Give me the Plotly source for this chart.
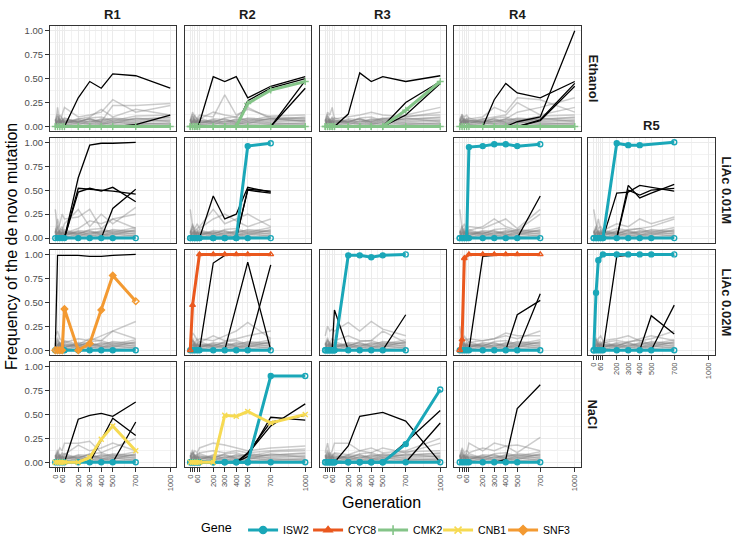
import plotly.graph_objects as go

# sampled generations and axis labels
G = [0, 20, 40, 60, 80, 200, 300, 400, 500, 700, 1000]
X_TICK_TEXT = ["0", "", "", "60", "", "200", "300", "400", "500", "700", "1000"]
X_MINOR = [140, 250, 350, 450, 600, 850]
Y_TICKS = [0, 0.25, 0.5, 0.75, 1.0]
Y_TICK_TEXT = ["0.00", "0.25", "0.50", "0.75", "1.00"]
REPLICATES = ["R1", "R2", "R3", "R4", "R5"]
CONDITIONS = ["Ethanol", "LiAc 0.01M", "LiAc 0.02M", "NaCl"]
GENES = ["ISW2", "CYC8", "CMK2", "CNB1", "SNF3"]

# low-frequency background mutations (the grey band)
BAND = [
    [0.05, 0.09, 0.03, 0.06, 0.04, 0.05, 0.03, 0.06, 0.04, 0.05, 0.06],
    [0.02, 0.04, 0.07, 0.03, 0.05, 0.02, 0.06, 0.03, 0.07, 0.04, 0.03],
    [0.08, 0.03, 0.05, 0.09, 0.02, 0.07, 0.04, 0.08, 0.05, 0.08, 0.09],
    [0.01, 0.06, 0.02, 0.04, 0.07, 0.03, 0.02, 0.04, 0.02, 0.03, 0.02],
    [0.04, 0.11, 0.06, 0.02, 0.03, 0.08, 0.07, 0.05, 0.09, 0.07, 0.10],
    [0.00, 0.02, 0.01, 0.01, 0.02, 0.01, 0.00, 0.02, 0.01, 0.01, 0.01],
    [0.06, 0.13, 0.04, 0.07, 0.09, 0.04, 0.09, 0.10, 0.06, 0.11, 0.12],
    [0.03, 0.05, 0.08, 0.05, 0.06, 0.06, 0.05, 0.07, 0.08, 0.06, 0.07],
    [0.02, 0.07, 0.03, 0.06, 0.01, 0.04, 0.03, 0.02, 0.05, 0.02, 0.04],
    [0.07, 0.01, 0.06, 0.03, 0.05, 0.05, 0.08, 0.04, 0.03, 0.09, 0.05],
]

# ---- Ethanol ----
ETH_R1_FAINT = [[0.0, 0.2, 0.05, 0.12, 0.2, 0.1, 0.12, 0.15, 0.28, 0.15, 0.22],
                [0.02, 0.05, 0.12, 0.08, 0.05, 0.08, 0.1, 0.18, 0.1, 0.18, 0.12],
                [0.0, 0.02, 0.04, 0.05, 0.08, 0.05, 0.08, 0.05, 0.22, 0.22, 0.24]]
ETH_R1_BLACK = [[0, 0, 0, 0, 0, 0.30, 0.47, 0.40, 0.55, 0.53, 0.40],
                [0, 0, 0, 0, 0, 0, 0, 0, 0, 0.02, 0.12]]
ETH_R1_CMK2 = [[0, 0, 0, 0, 0, 0, 0, 0, 0, 0, 0]]

ETH_R2_FAINT = [[0.05, 0.15, 0.1, 0.08, 0.12, 0.1, 0.33, 0.12, 0.18, 0.1, 0.08],
                [0.02, 0.05, 0.12, 0.06, 0.08, 0.15, 0.12, 0.1, 0.2, 0.08, 0.06]]
ETH_R2_BLACK = [[0, 0, 0, 0, 0.04, 0.52, 0.47, 0.52, 0.30, 0.42, 0.52],
                [0, 0, 0, 0, 0, 0, 0, 0, 0.27, 0.40, 0.50],
                [0, 0, 0, 0, 0, 0, 0, 0, 0, 0, 0.48],
                [0, 0, 0, 0, 0, 0, 0, 0, 0, 0, 0.40]]
ETH_R2_CMK2 = [[0, 0, 0, 0, 0, 0, 0, 0, 0, 0, 0],
               [0, 0, 0, 0, 0, 0, 0, 0, 0.24, 0.38, 0.47]]

ETH_R3_FAINT = [[0.05, 0.15, 0.12, 0.2, 0.08, 0.1, 0.12, 0.15, 0.12, 0.1, 0.15],
                [0.02, 0.08, 0.05, 0.1, 0.06, 0.05, 0.08, 0.05, 0.08, 0.12, 0.2]]
ETH_R3_BLACK = [[0, 0, 0, 0, 0, 0.13, 0.56, 0.47, 0.52, 0.47, 0.53],
                [0, 0, 0, 0, 0, 0, 0, 0, 0, 0.25, 0.47],
                [0, 0, 0, 0, 0, 0, 0, 0, 0, 0.12, 0.45]]
ETH_R3_CMK2 = [[0, 0, 0, 0, 0, 0, 0, 0, 0, 0, 0],
               [0, 0, 0, 0, 0, 0, 0, 0, 0, 0.17, 0.47]]

ETH_R4_FAINT = [[0.08, 0.12, 0.1, 0.12, 0.08, 0.1, 0.2, 0.15, 0.3, 0.28, 0.15],
                [0.02, 0.05, 0.08, 0.05, 0.06, 0.08, 0.1, 0.12, 0.25, 0.12, 0.2],
                [0.0, 0.1, 0.05, 0.08, 0.06, 0.05, 0.06, 0.08, 0.15, 0.2, 0.3]]
ETH_R4_BLACK = [[0, 0, 0, 0, 0, 0, 0.28, 0.45, 0.35, 0.30, 0.47],
                [0, 0, 0, 0, 0, 0, 0, 0, 0.05, 0.10, 1.00],
                [0, 0, 0, 0, 0, 0, 0, 0, 0, 0.07, 0.45],
                [0, 0, 0, 0, 0, 0, 0, 0, 0, 0.06, 0.42]]
ETH_R4_CMK2 = [[0, 0, 0, 0, 0, 0, 0, 0, 0, 0, 0]]

# ---- LiAc 0.01M ----
L1_R1_FAINT = [[0.3, 0.1, 0.15, 0.25, 0.2, 0.22, 0.3, 0.1, 0.2, 0.25],
               [0.05, 0.2, 0.1, 0.08, 0.15, 0.3, 0.12, 0.25, 0.15, 0.32],
               [0.1, 0.05, 0.08, 0.12, 0.05, 0.1, 0.18, 0.15, 0.2, 0.1]]
L1_R1_BLACK = [[0, 0, 0, 0, 0, 0.63, 0.97, 0.99, 0.99, 1.00],
               [0, 0, 0, 0, 0, 0.48, 0.52, 0.49, 0.53, 0.38],
               [0, 0, 0, 0, 0, 0.52, 0.51, 0.50, 0.49, 0.46],
               [0, 0, 0, 0, 0, 0, 0, 0, 0.31, 0.51]]
L1_R1_ISW2 = [[0, 0, 0, 0, 0, 0, 0, 0, 0, 0]]

L1_R2_FAINT = [[0.3, 0.12, 0.1, 0.15, 0.1, 0.2, 0.25, 0.18, 0.12, 0.2],
               [0.05, 0.15, 0.08, 0.1, 0.12, 0.3, 0.15, 0.2, 0.25, 0.12]]
L1_R2_BLACK = [[0, 0, 0, 0, 0, 0.44, 0.20, 0.25, 0.53, 0.48],
               [0, 0, 0, 0, 0, 0, 0, 0, 0.51, 0.49],
               [0, 0, 0, 0, 0, 0, 0, 0, 0.50, 0.47]]
L1_R2_ISW2 = [[0, 0, 0, 0, 0, 0, 0, 0, 0, 0],
              [0, 0, 0, 0, 0, 0, 0, 0, 0.96, 0.99]]

L1_R4_FAINT = [[0.3, 0.1, 0.15, 0.08, 0.12, 0.1, 0.15, 0.2, 0.1, 0.3],
               [0.05, 0.08, 0.1, 0.05, 0.08, 0.12, 0.2, 0.12, 0.08, 0.25]]
L1_R4_BLACK = [[0, 0, 0, 0, 0, 0, 0, 0, 0, 0.44]]
L1_R4_ISW2 = [[0, 0, 0, 0, 0, 0, 0, 0, 0, 0],
              [0, 0, 0, 0, 0.95, 0.96, 0.98, 0.98, 0.96, 0.98]]

L1_R5_FAINT = [[0.3, 0.15, 0.1, 0.12, 0.08, 0.15, 0.12, 0.2, 0.15, 0.22],
               [0.05, 0.1, 0.2, 0.08, 0.05, 0.1, 0.08, 0.1, 0.12, 0.2]]
L1_R5_BLACK = [[0, 0, 0, 0, 0, 0.47, 0.48, 0.55, 0.53, 0.49],
               [0, 0, 0, 0, 0, 0, 0.55, 0.42, 0.47, 0.56],
               [0, 0, 0, 0, 0, 0, 0.50, 0.45, 0.50, 0.52]]
L1_R5_ISW2 = [[0, 0, 0, 0, 0, 0, 0, 0, 0, 0],
              [0, 0, 0, 0, 0, 0.99, 0.97, 0.97, None, 1.00]]

# ---- LiAc 0.02M ----
L2_R1_FAINT = [[0.15, 0.2, 0.12, 0.1, 0.08, 0.12, 0.1, 0.15, 0.2, 0.3],
               [0.02, 0.05, 0.08, 0.05, 0.1, 0.06, 0.12, 0.1, 0.2, 0.12]]
L2_R1_BLACK = [[0, 0.99, 0.99, 0.99, 0.99, 0.99, 0.98, 0.98, 0.99, 1.00]]
L2_R1_ISW2 = [[0, 0, 0, 0, 0, 0, 0, 0, 0, 0]]
L2_R1_SNF3 = [[0, 0, 0, 0, 0.43, 0, 0.07, 0.42, 0.78, 0.51]]

L2_R2_FAINT = [[0.1, 0.18, 0.15, 0.1, 0.12, 0.1, 0.15, 0.2, 0.29, 0.12],
               [0.05, 0.1, 0.08, 0.12, 0.08, 0.15, 0.1, 0.12, 0.15, 0.2]]
L2_R2_BLACK = [[0, 0, 0, 0, 0, 0.91, 0.99, 1.0, 1.0, 1.0],
               [0, 0, 0, 0, 0, 0, 0, 0.46, 0.92, 0],
               [0, 0, 0, 0, 0, 0, 0, 0, 0, 0.89]]
L2_R2_ISW2 = [[0, 0, 0, 0, 0, 0, 0, 0, 0, 0]]
L2_R2_CYC8 = [[0, 0.47, None, None, 1.0, 1.0, 1.0, 1.0, 1.0, 1.0]]

L2_R3_FAINT = [[0.15, 0.25, 0.2, 0.22, 0.2, 0.29, 0.2, 0.3, 0.22, 0.15],
               [0.05, 0.1, 0.08, 0.12, 0.1, 0.15, 0.1, 0.1, 0.2, 0.08]]
L2_R3_BLACK = [[0, 0, 0, 0, 0.42, 0, 0, 0, 0, 0],
               [0, 0, 0, 0, 0, 0, 0, 0, 0, 0.37]]
L2_R3_ISW2 = [[0, 0, 0, 0, 0, 0, 0, 0, 0, 0],
              [0, 0, 0, 0, 0, 0.99, 0.99, 0.97, 0.99, 1.0]]

L2_R4_FAINT = [[0.25, 0.1, 0.15, 0.1, 0.12, 0.1, 0.12, 0.15, 0.12, 0.2],
               [0.05, 0.08, 0.1, 0.12, 0.08, 0.1, 0.12, 0.18, 0.15, 0.15]]
L2_R4_BLACK = [[0, 0, 0, 0, 0, 0.98, 0.99, 0.99, 0.99, 0.99],
               [0, 0, 0, 0, 0, 0, 0, 0, 0.37, 0.52],
               [0, 0, 0, 0, 0, 0, 0, 0, 0, 0.59]]
L2_R4_ISW2 = [[0, 0, 0, 0, 0, 0, 0, 0, 0, 0]]
L2_R4_CYC8 = [[0, 0.11, 0.96, None, 1.0, 1.0, 1.0, 1.0, 1.0, 1.0]]

L2_R5_FAINT = [[0.15, 0.1, 0.12, 0.15, 0.1, 0.12, 0.15, 0.1, 0.12, 0.2],
               [0.05, 0.08, 0.1, 0.06, 0.08, 0.1, 0.08, 0.12, 0.15, 0.1]]
L2_R5_BLACK = [[0, 0, 0, 0, 0, 0.98, 0.99, 0.99, 0.99, 0.99],
               [0, 0, 0, 0, 0, 0, 0, 0, 0.36, 0.17],
               [0, 0, 0, 0, 0, 0, 0, 0, 0, 0.47]]
L2_R5_ISW2 = [[0, 0, 0, 0, 0, 0, 0, 0, 0, 0],
              [0, 0.60, 0.94, None, 1.0, 1.0, 1.0, 1.0, 1.0, 1.0]]

# ---- NaCl ----
NACL_R1_FAINT = [[0.05, 0.1, 0.15, 0.12, 0.2, 0.2, 0.22, 0.1, 0.15, 0.25],
                 [0.02, 0.08, 0.06, 0.1, 0.08, 0.18, 0.12, 0.15, 0.2, 0.12]]
NACL_R1_BLACK = [[0, 0, 0, 0, 0, 0.45, 0.49, 0.51, 0.48, 0.63],
                 [0, 0, 0, 0, 0, 0, 0, 0.23, 0.46, 0.28],
                 [0, 0, 0, 0, 0, 0, 0, 0, 0, 0.42]]
NACL_R1_ISW2 = [[0, 0, 0, 0, 0, 0, 0, 0, 0, 0]]
NACL_R1_CNB1 = [[0, 0, 0, 0, 0, 0, 0.05, 0.24, 0.38, 0.12]]

NACL_R2_FAINT = [[0.1, 0.08, 0.12, 0.1, 0.15, 0.2, 0.18, 0.15, 0.12, 0.15, 0.17],
                 [0.05, 0.1, 0.06, 0.08, 0.1, 0.12, 0.1, 0.12, 0.1, 0.12, 0.14]]
NACL_R2_BLACK = [[0, 0, 0, 0, 0, 0, 0, 0, 0.06, 0.47, 0.44],
                 [0, 0, 0, 0, 0, 0, 0, 0, 0.09, 0.38, 0.61],
                 [0, 0, 0, 0, 0, 0, 0, 0, 0.10, 0.42, 0.49]]
NACL_R2_ISW2 = [[0, 0, 0, 0, 0, 0, 0, 0, 0, 0, 0],
                [0, 0, 0, 0, 0, 0, 0, 0, 0, 0.90, 0.90]]
NACL_R2_CNB1 = [[0, 0, 0, 0, 0, 0, 0.49, 0.48, 0.53, 0.41, 0.50]]

NACL_R3_FAINT = [[0.1, 0.2, 0.08, 0.12, 0.2, 0.2, 0.12, 0.15, 0.1, 0.12, 0.25],
                 [0.05, 0.08, 0.1, 0.06, 0.1, 0.08, 0.12, 0.1, 0.15, 0.1, 0.2]]
NACL_R3_BLACK = [[0, 0, 0, 0, 0, 0.17, 0.48, 0.50, 0.52, 0.43, 0],
                 [0, 0, 0, 0, 0, 0, 0, 0, 0, 0.21, 0.54],
                 [0, 0, 0, 0, 0, 0, 0, 0, 0, 0, 0.41]]
NACL_R3_ISW2 = [[0, 0, 0, 0, 0, 0, 0, 0, 0, 0, 0],
                [0, 0, 0, 0, 0, 0, 0, 0, 0, 0.19, 0.76]]

NACL_R4_FAINT = [[0.05, 0.15, 0.1, 0.12, 0.1, 0.15, 0.12, 0.17, 0.1, 0.26],
                 [0.02, 0.08, 0.06, 0.1, 0.2, 0.12, 0.2, 0.17, 0.18, 0.12]]
NACL_R4_BLACK = [[0, 0, 0, 0, 0, 0, 0, 0.03, 0.56, 0.81]]
NACL_R4_ISW2 = [[0, 0, 0, 0, 0, 0, 0, 0, 0, 0]]

# (row, col, faint, black, genes)
PANELS = [
    (0, 0, ETH_R1_FAINT, ETH_R1_BLACK, [("CMK2", ETH_R1_CMK2)]),
    (0, 1, ETH_R2_FAINT, ETH_R2_BLACK, [("CMK2", ETH_R2_CMK2)]),
    (0, 2, ETH_R3_FAINT, ETH_R3_BLACK, [("CMK2", ETH_R3_CMK2)]),
    (0, 3, ETH_R4_FAINT, ETH_R4_BLACK, [("CMK2", ETH_R4_CMK2)]),
    (1, 0, L1_R1_FAINT, L1_R1_BLACK, [("ISW2", L1_R1_ISW2)]),
    (1, 1, L1_R2_FAINT, L1_R2_BLACK, [("ISW2", L1_R2_ISW2)]),
    (1, 3, L1_R4_FAINT, L1_R4_BLACK, [("ISW2", L1_R4_ISW2)]),
    (1, 4, L1_R5_FAINT, L1_R5_BLACK, [("ISW2", L1_R5_ISW2)]),
    (2, 0, L2_R1_FAINT, L2_R1_BLACK, [("ISW2", L2_R1_ISW2), ("SNF3", L2_R1_SNF3)]),
    (2, 1, L2_R2_FAINT, L2_R2_BLACK, [("ISW2", L2_R2_ISW2), ("CYC8", L2_R2_CYC8)]),
    (2, 2, L2_R3_FAINT, L2_R3_BLACK, [("ISW2", L2_R3_ISW2)]),
    (2, 3, L2_R4_FAINT, L2_R4_BLACK, [("ISW2", L2_R4_ISW2), ("CYC8", L2_R4_CYC8)]),
    (2, 4, L2_R5_FAINT, L2_R5_BLACK, [("ISW2", L2_R5_ISW2)]),
    (3, 0, NACL_R1_FAINT, NACL_R1_BLACK, [("ISW2", NACL_R1_ISW2), ("CNB1", NACL_R1_CNB1)]),
    (3, 1, NACL_R2_FAINT, NACL_R2_BLACK, [("ISW2", NACL_R2_ISW2), ("CNB1", NACL_R2_CNB1)]),
    (3, 2, NACL_R3_FAINT, NACL_R3_BLACK, [("ISW2", NACL_R3_ISW2)]),
    (3, 3, NACL_R4_FAINT, NACL_R4_BLACK, [("ISW2", NACL_R4_ISW2)]),
]

GENE_COLOR = {"ISW2": "#1AA7B8", "CYC8": "#EA581E", "CMK2": "#84C488",
              "CNB1": "#F6DA52", "SNF3": "#F39A32"}
GENE_SYMBOL = {"ISW2": "circle", "CYC8": "triangle-up", "CMK2": "cross-thin",
               "CNB1": "x-thin", "SNF3": "diamond"}
GENE_OPEN = {"ISW2": "circle-open", "CYC8": "triangle-up-open", "CMK2": "cross-thin",
             "CNB1": "x-thin", "SNF3": "diamond-open"}
GREY = "rgba(128,128,128,0.4)"
FONT = "Liberation Sans, Arial, sans-serif"

# pixel layout (body margin is removed in the page, see write_html below)
W, H = 740, 548
COL_LEFT = [49.5, 184.5, 319.5, 454, 588]
PW = 126.5
ROW_TOP = [25, 137, 249.5, 362]
PH = 105.8
BOTTOM_ROW = {0: 3, 1: 3, 2: 3, 3: 3, 4: 2}

fig = go.Figure()
layout_axes = {}

for i, (row, col, faint, black, genes) in enumerate(PANELS, start=1):
    xa = "x" if i == 1 else f"x{i}"
    ya = "y" if i == 1 else f"y{i}"
    n = len(black[0])
    xs = G[:n]
    for s in BAND + faint:
        fig.add_trace(go.Scatter(x=xs, y=s[:n], mode="lines", xaxis=xa, yaxis=ya,
                                 line=dict(color=GREY, width=1.5),
                                 showlegend=False, hoverinfo="skip"))
    for s in black:
        fig.add_trace(go.Scatter(x=xs, y=s, mode="lines", xaxis=xa, yaxis=ya,
                                 line=dict(color="black", width=1.3),
                                 showlegend=False, hoverinfo="skip"))
    for gene, series in genes:
        for s in series:
            sym = [GENE_SYMBOL[gene]] * n
            sym[0] = GENE_OPEN[gene]
            sym[-1] = GENE_OPEN[gene]
            fig.add_trace(go.Scatter(
                x=xs, y=s, mode="lines+markers", xaxis=xa, yaxis=ya,
                connectgaps=True,
                line=dict(color=GENE_COLOR[gene], width=3),
                marker=dict(symbol=sym, size=5, color=GENE_COLOR[gene],
                            line=dict(color=GENE_COLOR[gene], width=1.4)),
                showlegend=False, hoverinfo="skip"))

    left = COL_LEFT[col]
    top = ROW_TOP[row]
    is_bottom = BOTTOM_ROW[col] == row
    is_left = col == 0
    key = "" if i == 1 else str(i)
    layout_axes["xaxis" + key] = dict(
        domain=[left / W, (left + PW) / W], anchor=ya, range=[-50, 1050],
        tickmode="array", tickvals=G, ticktext=X_TICK_TEXT,
        showticklabels=is_bottom, ticks="outside" if is_bottom else "",
        ticklen=3.5, tickcolor="#333333", tickangle=-90,
        tickfont=dict(size=7.5, color="#4D4D4D", family=FONT),
        showgrid=True, gridcolor="#EBEBEB", gridwidth=1, zeroline=False,
        minor=dict(tickvals=X_MINOR, showgrid=True, gridcolor="#F2F2F2", gridwidth=0.6),
        showline=True, mirror=True, linecolor="#333333", linewidth=1,
    )
    layout_axes["yaxis" + key] = dict(
        domain=[1 - (top + PH) / H, 1 - top / H], anchor=xa, range=[-0.05, 1.05],
        tickmode="array", tickvals=Y_TICKS, ticktext=Y_TICK_TEXT,
        showticklabels=is_left, ticks="outside" if is_left else "",
        ticklen=3.5, tickcolor="#333333",
        tickfont=dict(size=9.5, color="#4D4D4D", family=FONT),
        showgrid=True, gridcolor="#EBEBEB", gridwidth=1, zeroline=False,
        minor=dict(tickvals=[0.125, 0.375, 0.625, 0.875], showgrid=True,
                   gridcolor="#F2F2F2", gridwidth=0.6),
        showline=True, mirror=True, linecolor="#333333", linewidth=1,
    )

# legend entries
for gene in GENES:
    fig.add_trace(go.Scatter(
        x=[None], y=[None], mode="lines+markers", name=gene,
        line=dict(color=GENE_COLOR[gene], width=3),
        marker=dict(symbol=GENE_SYMBOL[gene], size=7, color=GENE_COLOR[gene],
                    line=dict(color=GENE_COLOR[gene], width=1.6)),
        showlegend=True))
# empty slot so the last label is not clipped
fig.add_trace(go.Scatter(x=[None], y=[None], mode="lines", name=" ",
                         line=dict(color="rgba(0,0,0,0)"), showlegend=True,
                         hoverinfo="skip"))

annotations = []
for c, rep in enumerate(REPLICATES[:4]):
    annotations.append(dict(x=(COL_LEFT[c] + PW / 2) / W, y=1 - 13.5 / H,
                            text="<b>%s</b>" % rep))
annotations.append(dict(x=(COL_LEFT[4] + PW / 2) / W, y=1 - 125 / H, text="<b>R5</b>"))
strip_x = [COL_LEFT[3] + PW + 12.5, COL_LEFT[4] + PW + 12.5,
           COL_LEFT[4] + PW + 12.5, COL_LEFT[3] + PW + 12.5]
for r, cond in enumerate(CONDITIONS):
    annotations.append(dict(x=strip_x[r] / W, y=1 - (ROW_TOP[r] + PH / 2) / H,
                            text="<b>%s</b>" % cond, textangle=90))
for a in annotations:
    a.update(font=dict(size=13, color="#1A1A1A"))
annotations.append(dict(x=11.5 / W, y=1 - (ROW_TOP[0] + ROW_TOP[3] + PH) / 2 / H,
                        text="Frequency of the de novo mutation", textangle=-90,
                        font=dict(size=16, color="black")))
annotations.append(dict(x=(COL_LEFT[0] + COL_LEFT[4] + PW) / 2 / W, y=1 - 503 / H,
                        text="Generation", font=dict(size=16, color="black")))
for a in annotations:
    a.update(xref="paper", yref="paper", showarrow=False,
             xanchor="center", yanchor="middle")

fig.update_layout(
    width=W, height=H,
    margin=dict(l=0, r=0, t=0, b=0),
    paper_bgcolor="white", plot_bgcolor="white",
    font=dict(family=FONT, color="black"),
    showlegend=True,
    legend=dict(orientation="h", x=199 / W, xanchor="left",
                y=1 - 531 / H, yanchor="middle",
                title=dict(text="Gene ", side="left", font=dict(size=12.5)),
                font=dict(size=10.5), itemwidth=30, entrywidth=20, entrywidthmode="pixels",
                bgcolor="rgba(0,0,0,0)"),
    annotations=annotations,
    **layout_axes,
)

fig.write_html("out.html", config={"displayModeBar": False},
               post_script="document.body.style.margin='0px';")
